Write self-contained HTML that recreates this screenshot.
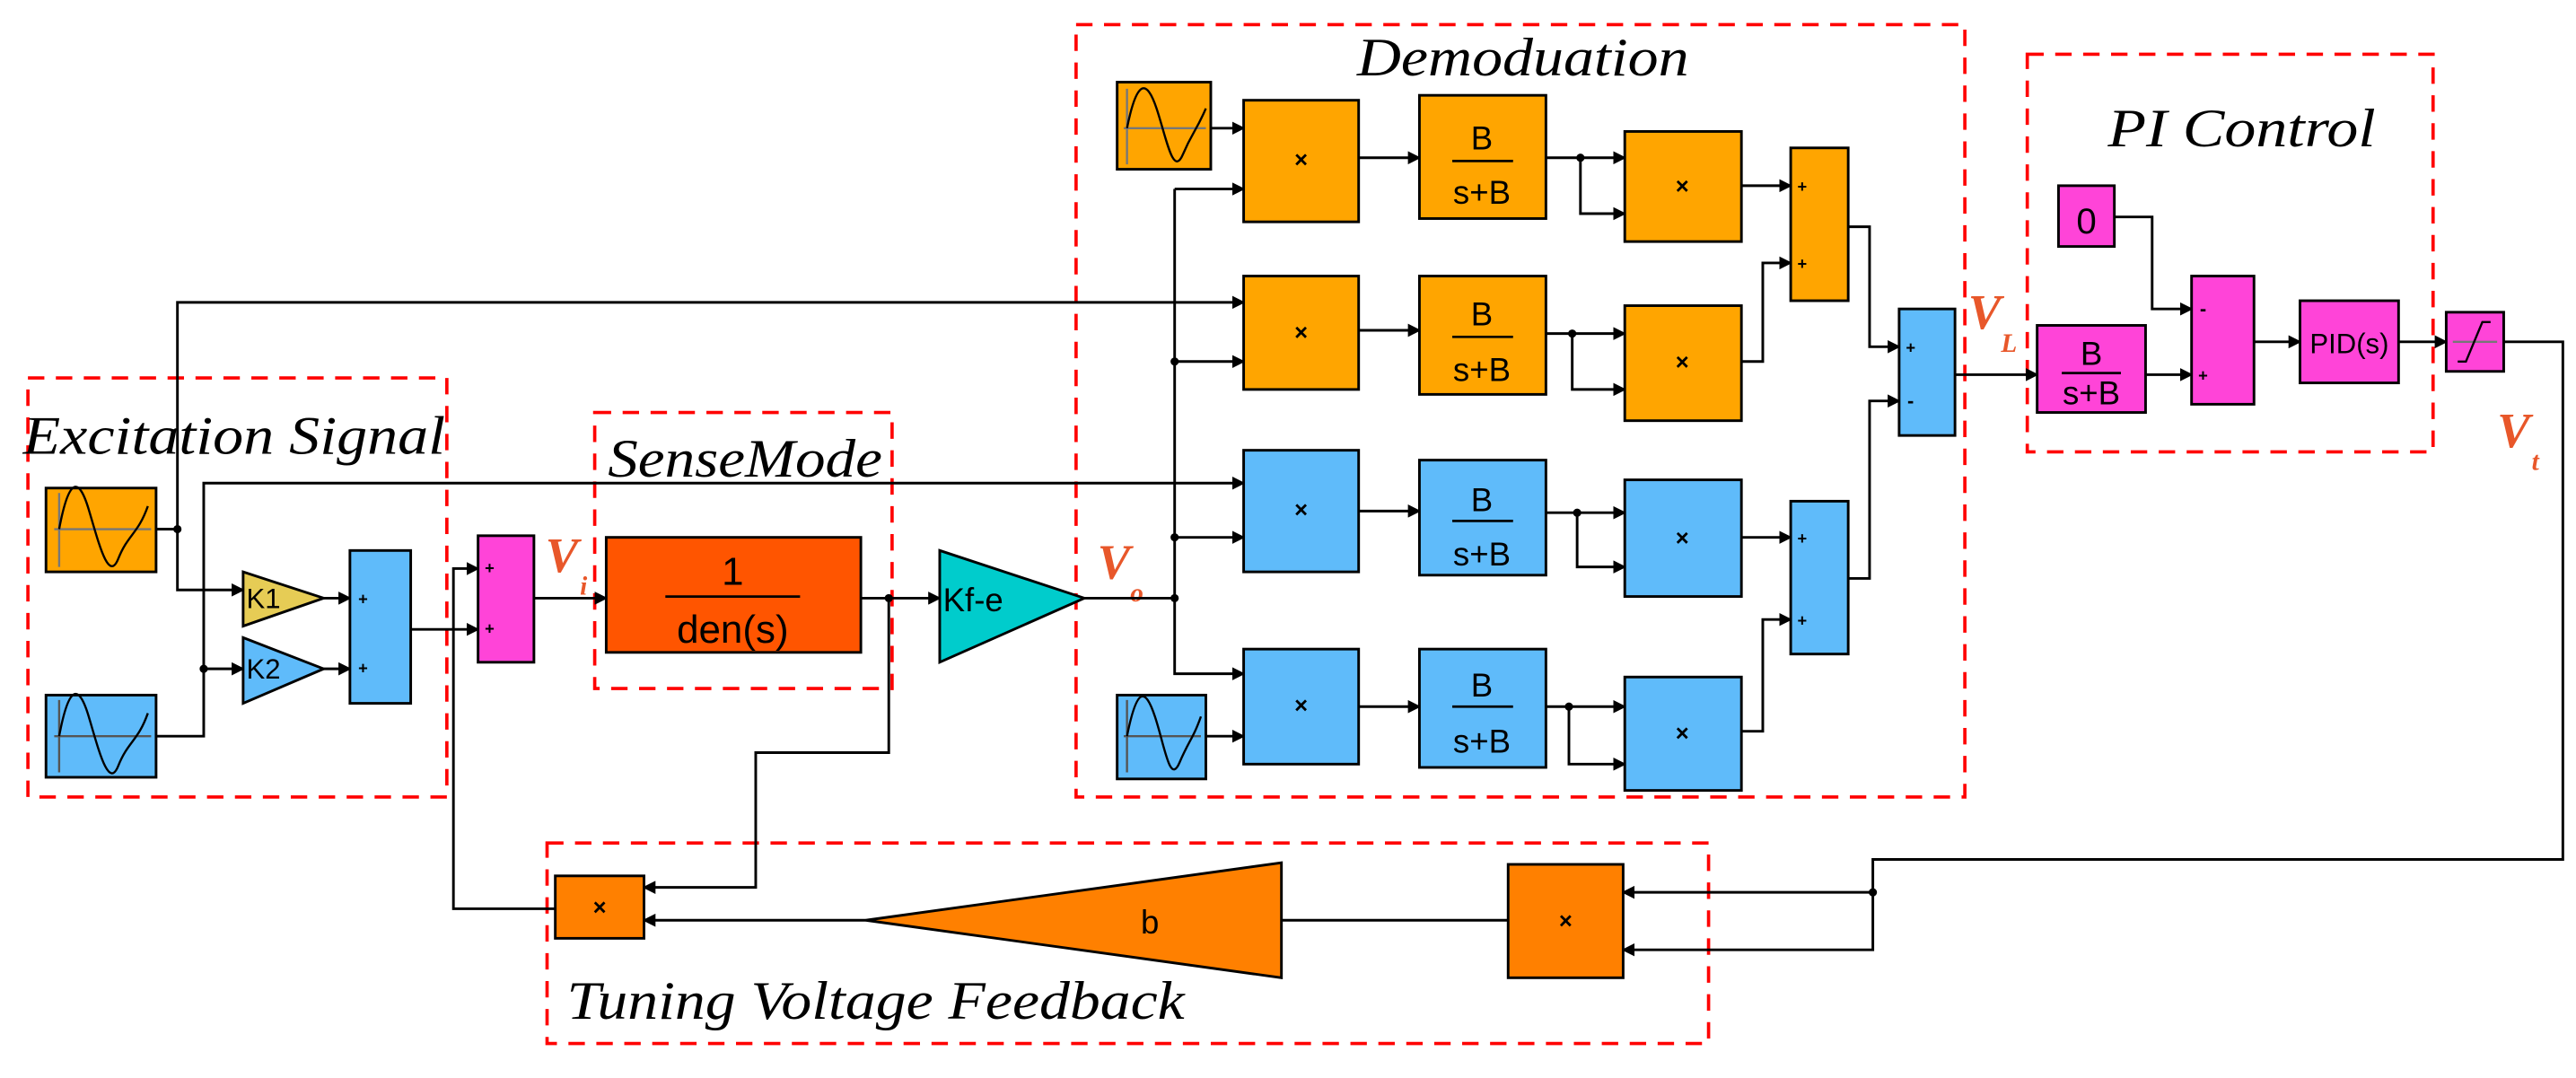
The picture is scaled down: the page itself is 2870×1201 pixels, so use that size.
<!DOCTYPE html>
<html><head><meta charset="utf-8"><style>html,body{margin:0;padding:0;background:#fff}svg{display:block}</style></head>
<body>
<svg width="2870" height="1201" viewBox="0 0 1568 656" preserveAspectRatio="none" xmlns="http://www.w3.org/2000/svg" font-family="Liberation Sans, sans-serif">
<defs>
<marker id="a" markerWidth="8" markerHeight="8" refX="7" refY="4" orient="auto" markerUnits="userSpaceOnUse"><path d="M0,0 L8,4 L0,8 z" fill="#000"/></marker>
</defs>
<g fill="none" stroke="#f00" stroke-width="2" stroke-dasharray="10,7">
<rect x="17" y="230" width="255" height="255"/>
<rect x="362" y="251" width="181" height="168"/>
<rect x="655" y="15" width="541" height="470"/>
<rect x="1234" y="33" width="247" height="242"/>
<rect x="333" y="513" width="707" height="122"/>
</g>
<g font-family="Liberation Serif, serif" font-style="italic" font-size="33" fill="#000" lengthAdjust="spacingAndGlyphs">
<text x="14" y="276" textLength="257" lengthAdjust="spacingAndGlyphs">Excitation Signal</text>
<text x="370" y="290" textLength="167" lengthAdjust="spacingAndGlyphs">SenseMode</text>
<text x="826" y="46" textLength="202" lengthAdjust="spacingAndGlyphs">Demoduation</text>
<text x="1283" y="89" textLength="163" lengthAdjust="spacingAndGlyphs">PI Control</text>
<text x="345" y="620" textLength="376" lengthAdjust="spacingAndGlyphs">Tuning Voltage Feedback</text>
</g>
<g font-family="Liberation Serif, serif" font-style="italic" font-weight="bold" fill="#e8572a">
<text x="332" y="348" font-size="30">V</text><text x="353" y="362" font-size="16">i</text>
<text x="668" y="352" font-size="30">V</text><text x="688" y="366" font-size="16">o</text>
<text x="1198" y="200" font-size="30">V</text><text x="1218" y="214" font-size="16">L</text>
<text x="1520" y="272" font-size="30">V</text><text x="1541" y="286" font-size="16">t</text>
</g>
<g fill="none" stroke="#000" stroke-width="1.6">
<path d="M95,322 H108 V184 H757" marker-end="url(#a)"/>
<path d="M108,322 V359 H148" marker-end="url(#a)"/>
<path d="M95,448 H124 V407 H148" marker-end="url(#a)"/>
<path d="M124,407 V294 H757" marker-end="url(#a)"/>
<path d="M197,364 H213" marker-end="url(#a)"/>
<path d="M197,407 H213" marker-end="url(#a)"/>
<path d="M250,383 H291" marker-end="url(#a)"/>
<path d="M276,383 V346 H291" marker-end="url(#a)"/>
<path d="M276,383 V553 H338"/>
<path d="M325,364 H369" marker-end="url(#a)"/>
<path d="M524,364 H572" marker-end="url(#a)"/>
<path d="M541,364 V458 H460 V540 H392" marker-end="url(#a)"/>
<path d="M660,364 H715"/>
<path d="M715,115 V410 H757" marker-end="url(#a)"/>
<path d="M715,115 H757" marker-end="url(#a)"/>
<path d="M715,220 H757" marker-end="url(#a)"/>
<path d="M715,327 H757" marker-end="url(#a)"/>
<path d="M737,78 H757" marker-end="url(#a)"/>
<path d="M734,448 H757" marker-end="url(#a)"/>
<path d="M827,96 H864" marker-end="url(#a)"/>
<path d="M827,201 H864" marker-end="url(#a)"/>
<path d="M827,311 H864" marker-end="url(#a)"/>
<path d="M827,430 H864" marker-end="url(#a)"/>
<path d="M941,96 H989" marker-end="url(#a)"/><path d="M962,96 V130 H989" marker-end="url(#a)"/>
<path d="M941,203 H989" marker-end="url(#a)"/><path d="M957,203 V237 H989" marker-end="url(#a)"/>
<path d="M941,312 H989" marker-end="url(#a)"/><path d="M960,312 V345 H989" marker-end="url(#a)"/>
<path d="M941,430 H989" marker-end="url(#a)"/><path d="M955,430 V465 H989" marker-end="url(#a)"/>
<path d="M1060,113 H1090" marker-end="url(#a)"/>
<path d="M1060,220 H1073 V160 H1090" marker-end="url(#a)"/>
<path d="M1060,327 H1090" marker-end="url(#a)"/>
<path d="M1060,445 H1073 V377 H1090" marker-end="url(#a)"/>
<path d="M1125,138 H1138 V211 H1156" marker-end="url(#a)"/>
<path d="M1125,352 H1138 V244 H1156" marker-end="url(#a)"/>
<path d="M1190,228 H1240" marker-end="url(#a)"/>
<path d="M1306,228 H1334" marker-end="url(#a)"/>
<path d="M1287,132 H1310 V188 H1334" marker-end="url(#a)"/>
<path d="M1372,208 H1400" marker-end="url(#a)"/>
<path d="M1460,208 H1489" marker-end="url(#a)"/>
<path d="M1524,208 H1560 V523 H1140 V578 H988" marker-end="url(#a)"/>
<path d="M1140,543 H988" marker-end="url(#a)"/>
<path d="M918,560 H780"/>
<path d="M527,560 H392" marker-end="url(#a)"/>
</g>
<g fill="#000">
<circle cx="108" cy="322" r="2.5"/><circle cx="124" cy="407" r="2.5"/><circle cx="541" cy="364" r="2.5"/>
<circle cx="715" cy="364" r="2.5"/><circle cx="715" cy="220" r="2.5"/><circle cx="715" cy="327" r="2.5"/>
<circle cx="962" cy="96" r="2.5"/><circle cx="957" cy="203" r="2.5"/><circle cx="960" cy="312" r="2.5"/><circle cx="955" cy="430" r="2.5"/>
<circle cx="1140" cy="543" r="2.5"/>
</g>
<g stroke="#000" stroke-width="1.6">
<rect x="28" y="297" width="67" height="51" fill="#FFA500"/>
<rect x="28" y="423" width="67" height="50" fill="#5FBBFA"/>
<polygon points="148,348 197,364 148,381" fill="#E6CC55"/>
<polygon points="148,388 197,407 148,428" fill="#5FBBFA"/>
<rect x="213" y="335" width="37" height="93" fill="#5FBBFA"/>
<rect x="291" y="326" width="34" height="77" fill="#FF44D8"/>
<rect x="369" y="327" width="155" height="70" fill="#FF5500"/>
<polygon points="572,335 660,364 572,403" fill="#00CCCC"/>
<rect x="680" y="50" width="57" height="53" fill="#FFA500"/>
<rect x="680" y="423" width="54" height="51" fill="#5FBBFA"/>
<rect x="757" y="61" width="70" height="74" fill="#FFA500"/>
<rect x="757" y="168" width="70" height="69" fill="#FFA500"/>
<rect x="757" y="274" width="70" height="74" fill="#5FBBFA"/>
<rect x="757" y="395" width="70" height="70" fill="#5FBBFA"/>
<rect x="864" y="58" width="77" height="75" fill="#FFA500"/>
<rect x="864" y="168" width="77" height="72" fill="#FFA500"/>
<rect x="864" y="280" width="77" height="70" fill="#5FBBFA"/>
<rect x="864" y="395" width="77" height="72" fill="#5FBBFA"/>
<rect x="989" y="80" width="71" height="67" fill="#FFA500"/>
<rect x="989" y="186" width="71" height="70" fill="#FFA500"/>
<rect x="989" y="292" width="71" height="71" fill="#5FBBFA"/>
<rect x="989" y="412" width="71" height="69" fill="#5FBBFA"/>
<rect x="1090" y="90" width="35" height="93" fill="#FFA500"/>
<rect x="1090" y="305" width="35" height="93" fill="#5FBBFA"/>
<rect x="1156" y="188" width="34" height="77" fill="#5FBBFA"/>
<rect x="1253" y="113" width="34" height="37" fill="#FF44D8"/>
<rect x="1240" y="198" width="66" height="53" fill="#FF44D8"/>
<rect x="1334" y="168" width="38" height="78" fill="#FF44D8"/>
<rect x="1400" y="183" width="60" height="50" fill="#FF44D8"/>
<rect x="1489" y="190" width="35" height="36" fill="#FF44D8"/>
<rect x="918" y="526" width="70" height="69" fill="#FF8000"/>
<polygon points="527,560 780,525 780,595" fill="#FF8000"/>
<rect x="338" y="533" width="54" height="38" fill="#FF8000"/>
</g>
<g fill="none" stroke="#000" stroke-width="1.3">
<path d="M33,322 H92 M36,300 V345" stroke="#777"/>
<path d="M36,322 C42,290 48,290 54,310 S66,355 72,340 S84,325 90,308"/>
<path d="M33,448 H92 M36,426 V470" stroke="#555"/>
<path d="M36,448 C42,416 48,416 54,436 S66,481 72,466 S84,451 90,434"/>
<path d="M684,78 H734 M686,54 V100" stroke="#777"/>
<path d="M686,78 C692,48 698,48 704,66 S714,108 720,94 S728,80 734,66"/>
<path d="M684,448 H731 M686,426 V470" stroke="#555"/>
<path d="M686,448 C692,418 697,418 703,436 S712,478 718,464 S726,450 731,436"/>
<path d="M1493,208 H1520" stroke="#777"/>
<path d="M1496,220 H1501 L1511,196 H1516"/>
</g>
<g fill="#000" text-anchor="middle" font-size="14" font-weight="bold">
<text x="792" y="102">×</text><text x="792" y="207">×</text><text x="792" y="315">×</text><text x="792" y="434">×</text>
<text x="1024" y="118">×</text><text x="1024" y="225">×</text><text x="1024" y="332">×</text><text x="1024" y="451">×</text>
<text x="953" y="565">×</text><text x="365" y="557">×</text>
</g>
<g fill="#000" text-anchor="middle" font-size="10" font-weight="bold">
<text x="221" y="368">+</text><text x="221" y="410">+</text>
<text x="298" y="349">+</text><text x="298" y="386">+</text>
<text x="1097" y="117">+</text><text x="1097" y="164">+</text>
<text x="1097" y="331">+</text><text x="1097" y="381">+</text>
<text x="1163" y="215">+</text><text x="1163" y="248" font-size="12">-</text>
<text x="1341" y="192" font-size="12">-</text><text x="1341" y="232">+</text>
</g>
<g fill="#000" font-size="17">
<text x="150" y="370">K1</text><text x="150" y="413">K2</text>
<text x="574" y="372" font-size="20">Kf-e</text>
<text x="446" y="356" font-size="24" text-anchor="middle">1</text>
<line x1="405" y1="363" x2="487" y2="363" stroke="#000" stroke-width="1.5"/>
<text x="446" y="391" font-size="24" text-anchor="middle">den(s)</text>
<text x="1270" y="142" font-size="22" text-anchor="middle">0</text>
<text x="1430" y="215" font-size="17" text-anchor="middle">PID(s)</text>
<text x="700" y="568" font-size="20" text-anchor="middle">b</text>
</g>
<g fill="#000" font-size="20" text-anchor="middle">
<text x="902" y="91">B</text><text x="902" y="124">s+B</text>
<text x="902" y="198">B</text><text x="902" y="232">s+B</text>
<text x="902" y="311">B</text><text x="902" y="344">s+B</text>
<text x="902" y="424">B</text><text x="902" y="458">s+B</text>
<text x="1273" y="222">B</text><text x="1273" y="246">s+B</text>
</g>
<g stroke="#000" stroke-width="1.5">
<line x1="884" y1="98" x2="921" y2="98"/><line x1="884" y1="205" x2="921" y2="205"/>
<line x1="884" y1="317" x2="921" y2="317"/><line x1="884" y1="430" x2="921" y2="430"/>
<line x1="1255" y1="227" x2="1291" y2="227"/>
</g>
</svg>
</body></html>
